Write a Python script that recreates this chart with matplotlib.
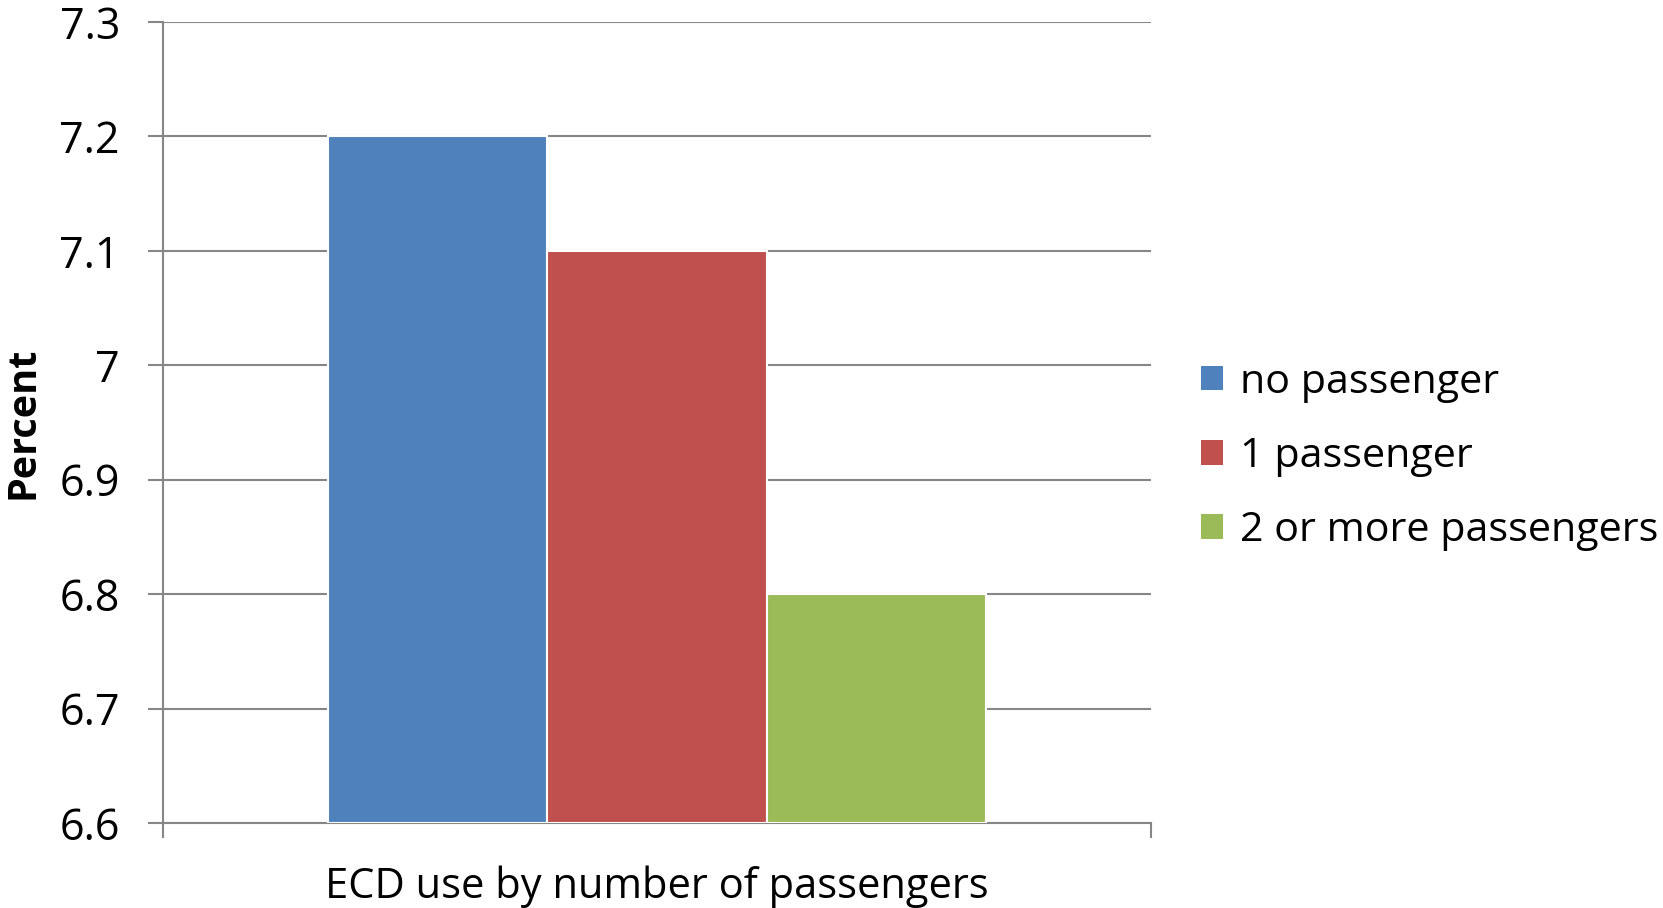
import matplotlib
matplotlib.use("Agg")
import matplotlib.pyplot as plt
from matplotlib.patches import Patch

plt.rcParams['font.family'] = ['Open Sans', 'DejaVu Sans']

series = ["no passenger", "1 passenger", "2 or more passengers"]
values = [7.2, 7.1, 6.8]
colors = ["#4F81BD", "#C0504D", "#9BBB59"]
yticks = [6.6, 6.7, 6.8, 6.9, 7.0, 7.1, 7.2, 7.3]
ytick_labels = ["6.6", "6.7", "6.8", "6.9", "7", "7.1", "7.2", "7.3"]
xlabel = "ECD use by number of passengers"
ylabel = "Percent"

fig = plt.figure(figsize=(16.63, 9.08), dpi=100)
ax = fig.add_axes([0.098, 0.0936, 0.594, 0.8822])

bw = 0.222
offsets = [-bw, 0, bw]
for off, v, c in zip(offsets, values, colors):
    ax.bar(off, v - 6.6, bottom=6.6, width=bw, color=c, edgecolor="white",
           linewidth=1.5, zorder=3)

ax.set_xlim(-0.5, 0.5)
ax.set_ylim(6.6, 7.3)
ax.set_yticks(yticks)
ax.set_yticklabels(ytick_labels)
ax.set_xticks([-0.5, 0.5])
ax.set_xticklabels(["", ""])
ax.yaxis.grid(True, color="#868686", linewidth=1.5, zorder=0)
ax.set_axisbelow(True)
for s in ["top", "right"]:
    ax.spines[s].set_visible(False)
for s in ["left", "bottom"]:
    ax.spines[s].set_color("#868686")
    ax.spines[s].set_linewidth(1.5)
ax.tick_params(axis="y", direction="out", length=11, width=1.5, color="#868686",
               labelsize=31, pad=20)
ax.tick_params(axis="x", direction="out", length=11, width=1.5, color="#868686")
ax.set_xlabel(xlabel, fontsize=30, labelpad=16)
ax.set_ylabel(ylabel, fontsize=28.5, fontweight="bold", labelpad=12)

handles = [Patch(facecolor=c, edgecolor="none") for c in colors]
fig.legend(handles, series, loc="center left", bbox_to_anchor=(0.722, 0.497),
           frameon=False, fontsize=29.7, handlelength=0.55, handleheight=0.55,
           handletextpad=0.4, labelspacing=0.82, borderpad=0, borderaxespad=0)

fig.savefig("out.png", dpi=100)
